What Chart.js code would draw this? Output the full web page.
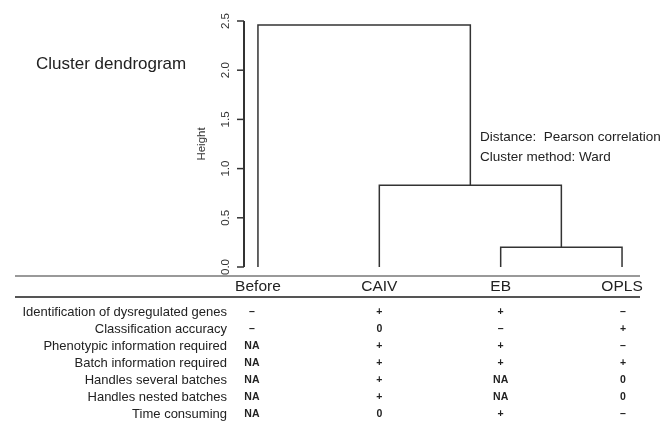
<!DOCTYPE html>
<html>
<head>
<meta charset="utf-8">
<script src="https://cdn.jsdelivr.net/npm/chart.js@4.4.0/dist/chart.umd.min.js"></script>
<style>
  html, body { margin: 0; padding: 0; background: #fff; }
  #wrap { width: 668px; height: 424px; }
</style>
</head>
<body>
<div id="wrap"><canvas id="dendro"></canvas></div>
<script>
// Datos del dendrograma
const leaves = ['Before', 'CAIV', 'EB', 'OPLS'];
// fusiones estilo R: negativo = hoja, positivo = fusión previa
const mergeLeft = [-3, -2, -1];
const mergeRight = [-4, 1, 2];
const mergeHeights = [0.20, 0.83, 2.46];
const yTicks = [0, 0.5, 1, 1.5, 2, 2.5];

// Tabla de comparación
const rowLabels = [
    'Identification of dysregulated genes',
    'Classification accuracy',
    'Phenotypic information required',
    'Batch information required',
    'Handles several batches',
    'Handles nested batches',
    'Time consuming'
];
const colBefore = ['–', '–', 'NA', 'NA', 'NA', 'NA', 'NA'];
const colCAIV = ['+', '0', '+', '+', '+', '+', '0'];
const colEB = ['+', '–', '+', '+', 'NA', 'NA', '+'];
const colOPLS = ['–', '+', '–', '+', '0', '0', '–'];
const tableCols = [colBefore, colCAIV, colEB, colOPLS];

const ink = '#333';
const font = 'Liberation Sans, Arial, sans-serif';

// Construir los segmentos a partir de las fusiones
const nodeX = [];
const nodeH = [];
const pos = id => id < 0 ? -id : nodeX[id - 1];
const hgt = id => id < 0 ? 0 : nodeH[id - 1];
const segments = mergeHeights.map((h, i) => {
    const a = mergeLeft[i], b = mergeRight[i];
    const xa = pos(a), xb = pos(b);
    nodeX.push((xa + xb) / 2);
    nodeH.push(h);
    return {
        data: [
            { x: xa, y: hgt(a) },
            { x: xa, y: h },
            { x: xb, y: h },
            { x: xb, y: hgt(b) }
        ],
        showLine: true,
        borderColor: ink,
        borderWidth: 1.5,
        pointRadius: 0,
        tension: 0,
        clip: false
    };
});

// Eje Y, textos y tabla dibujados sobre el canvas
const extras = {
    id: 'extras',
    afterDraw(chart) {
        const c = chart.ctx;
        const xs = chart.scales.x;
        const ys = chart.scales.y;
        c.save();

        // línea del eje y marcas, con la escala de Chart.js
        const ax = xs.left;
        const yTop = ys.getPixelForValue(yTicks[yTicks.length - 1]);
        const yBot = ys.getPixelForValue(yTicks[0]);
        c.strokeStyle = ink;
        c.lineWidth = 2;
        c.beginPath();
        c.moveTo(ax, yBot);
        c.lineTo(ax, yTop);
        c.stroke();
        c.lineWidth = 1.5;
        yTicks.forEach(v => {
            const y = ys.getPixelForValue(v);
            c.beginPath();
            c.moveTo(ax, y);
            c.lineTo(ax - 7, y);
            c.stroke();
        });

        c.fillStyle = '#222';
        c.textBaseline = 'middle';

        c.font = '17px ' + font;
        c.textAlign = 'left';
        c.fillText('Cluster dendrogram', 36, 64);

        c.font = '13.5px ' + font;
        c.fillText('Distance:  Pearson correlation', 480, 137);
        c.fillText('Cluster method: Ward', 480, 157);

        // líneas de la tabla
        c.lineWidth = 2;
        c.strokeStyle = '#999';
        c.beginPath(); c.moveTo(15, 276); c.lineTo(640, 276); c.stroke();
        c.strokeStyle = '#555';
        c.beginPath(); c.moveTo(15, 297); c.lineTo(640, 297); c.stroke();

        c.font = '15.5px ' + font;
        c.textAlign = 'center';
        leaves.forEach((name, i) => {
            c.fillText(name, xs.getPixelForValue(i + 1), 287);
        });

        c.font = '13px ' + font;
        c.textAlign = 'right';
        rowLabels.forEach((lab, r) => {
            c.fillText(lab, 227, 312 + r * 17);
        });

        const nudge = [-6, 0, 0, 1];
        c.font = 'bold 10.5px ' + font;
        c.textAlign = 'center';
        tableCols.forEach((col, j) => {
            const x = xs.getPixelForValue(j + 1) + nudge[j];
            col.forEach((v, r) => c.fillText(v, x, 312 + r * 17));
        });
        c.restore();
    }
};

new Chart(document.getElementById('dendro'), {
    type: 'scatter',
    data: { datasets: segments },
    options: {
        responsive: true,
        maintainAspectRatio: false,
        animation: false,
        layout: { padding: { left: 191, right: 28, top: 21, bottom: 157 } },
        plugins: { legend: { display: false }, tooltip: { enabled: false } },
        scales: {
            x: {
                type: 'linear',
                display: false,
                min: 0.885,
                max: 4.148
            },
            y: {
                type: 'linear',
                min: 0,
                max: 2.5,
                afterFit: s => { s.width = 53; },
                afterBuildTicks: s => { s.ticks = yTicks.map(v => ({ value: v })); },
                border: { display: false },
                grid: { display: false },
                ticks: {
                    minRotation: 90,
                    maxRotation: 90,
                    crossAlign: 'center',
                    padding: 2,
                    color: ink,
                    font: { family: font, size: 11.5 },
                    callback: v => v.toFixed(1)
                },
                title: {
                    display: true,
                    text: 'Height',
                    color: ink,
                    font: { family: font, size: 11.5 }
                }
            }
        }
    },
    plugins: [extras]
});
</script>
</body>
</html>
